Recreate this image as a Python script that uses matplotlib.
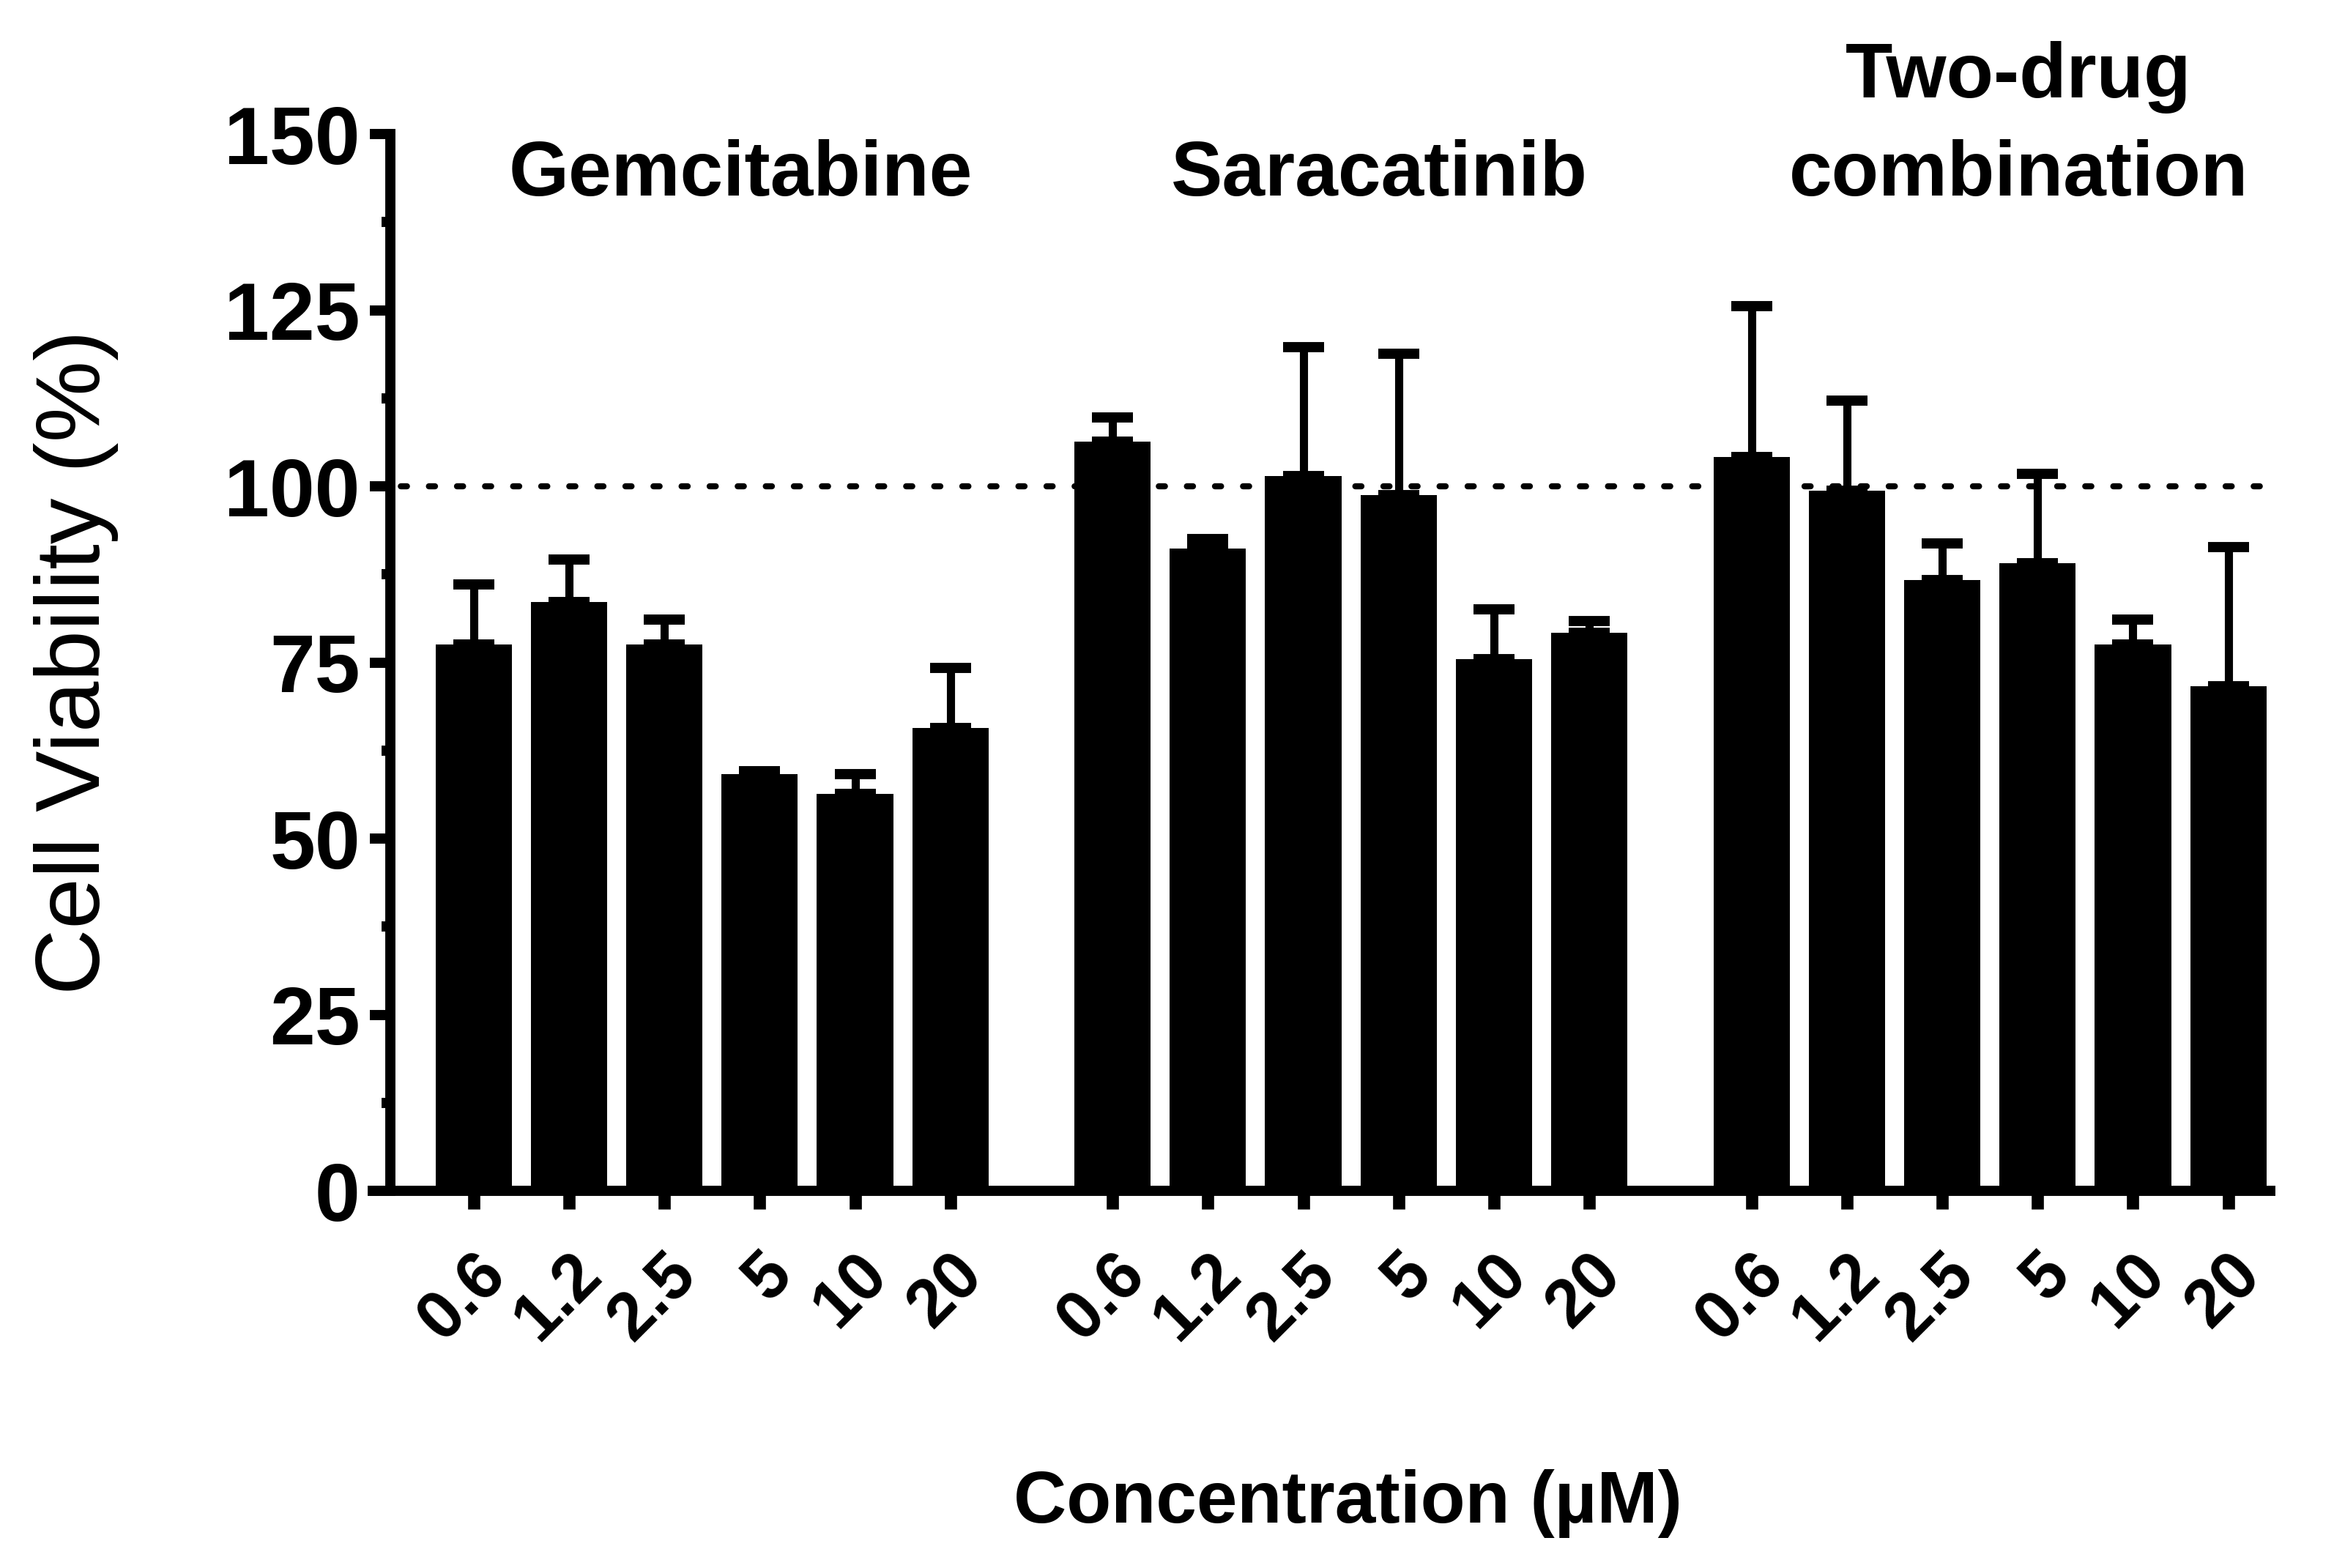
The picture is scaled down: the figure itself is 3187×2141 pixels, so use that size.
import numpy as np
import matplotlib
matplotlib.use("Agg")
import matplotlib.pyplot as plt
from matplotlib.ticker import MultipleLocator

# data
groups = ["Gemcitabine", "Saracatinib", "Two-drug\ncombination"]
conc_labels = ["0.6", "1.2", "2.5", "5", "10", "20"]

gem_mean = [77.6, 83.6, 77.6, 59.2, 56.4, 65.7]
gem_err = [8.5, 6.0, 3.5, 0.4, 2.8, 8.5]
sara_mean = [106.3, 91.2, 101.5, 98.8, 75.5, 79.2]
sara_err = [3.5, 1.3, 18.3, 20.0, 7.0, 1.7]
combo_mean = [104.2, 99.4, 86.7, 89.1, 77.6, 71.6]
combo_err = [21.4, 12.8, 5.2, 12.7, 3.5, 19.8]

means = [gem_mean, sara_mean, combo_mean]
errs = [gem_err, sara_err, combo_err]

plt.rcParams['font.family'] = ['Liberation Sans', 'DejaVu Sans']
narrow = ['Liberation Sans Narrow', 'Liberation Sans', 'DejaVu Sans']

fig = plt.figure(figsize=(15.935, 10.705), dpi=200)
ax = fig.add_axes([0.1596, 0.2405, 0.9727 - 0.1596, 0.9145 - 0.2405])

group_step = 6.7
width = 0.8
all_x = []
for g in range(3):
    x = np.arange(6) + g * group_step
    all_x.extend(x)
    ax.bar(x, means[g], width=width, color='black', zorder=3)
    ax.errorbar(x, means[g], yerr=[np.zeros(6), errs[g]], fmt='none',
                ecolor='black', elinewidth=4, capsize=10, capthick=5, zorder=2)

# reference line at 100 %
ax.axhline(100, color='black', lw=3, linestyle=(0, (1, 3.6)),
           dash_capstyle='round', zorder=1)

ax.set_xlim(-1.06, 18.84)
ax.set_ylim(0, 150)

ax.spines['top'].set_visible(False)
ax.spines['right'].set_visible(False)
ax.spines['left'].set_position(('data', -0.87))
ax.spines['left'].set_linewidth(5)
ax.spines['bottom'].set_linewidth(5)

ax.yaxis.set_major_locator(MultipleLocator(25))
ax.yaxis.set_minor_locator(MultipleLocator(12.5))
ax.tick_params(axis='y', which='major', length=10, width=5, pad=5,
               labelsize=40)
ax.tick_params(axis='y', which='minor', length=4.5, width=5)
for lab in ax.get_yticklabels():
    lab.set_fontweight('bold')

ax.set_xticks(all_x)
ax.set_xticklabels(conc_labels * 3, rotation=45, ha='right', va='top',
                   rotation_mode='anchor', fontsize=33, fontweight='bold',
                   family=narrow)
ax.tick_params(axis='x', which='major', length=9, width=6, pad=16)

ax.set_ylabel("Cell Viability (%)", fontsize=45, labelpad=52)
fig.text(1840 / 3187, 1 - 2053 / 2141, "Concentration (µM)", ha='center',
         va='center', fontsize=36, fontweight='bold', family=narrow)

title_x = [2.8, 9.5, 16.2]
for tx, name in zip(title_x, groups):
    ax.text(tx, 139, name, ha='center', va='bottom', fontsize=38,
            fontweight='bold', linespacing=1.45)

fig.savefig("out.png", dpi=200)
